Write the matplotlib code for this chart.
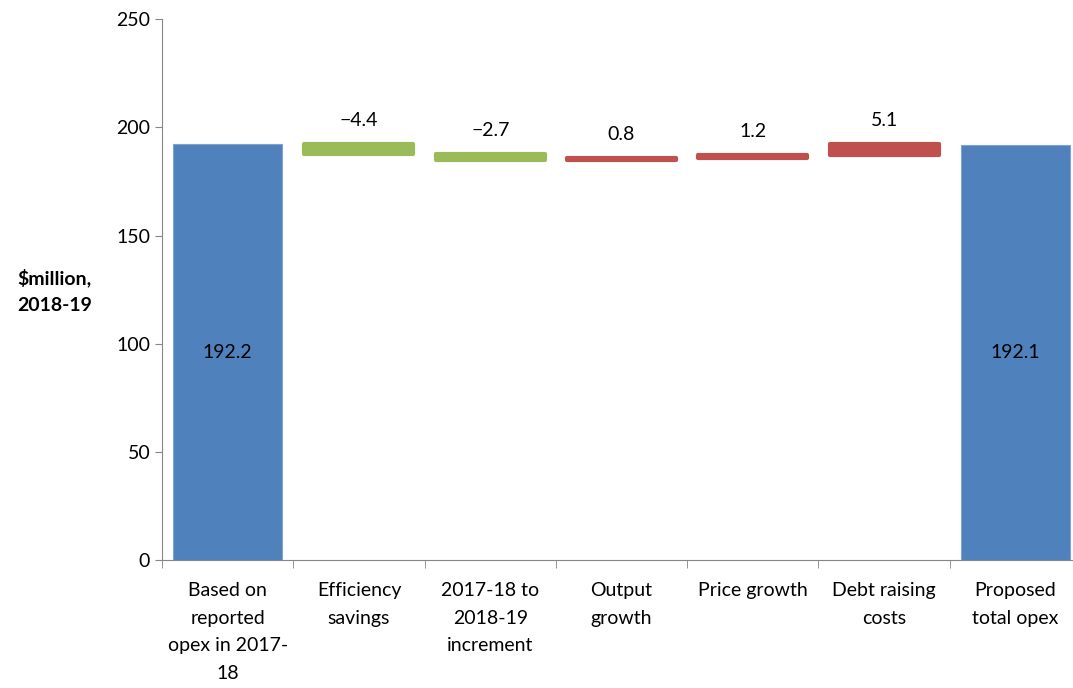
import matplotlib.pyplot as plt
import numpy as np

# waterfall data ($million, 2018-19)
categories = ["Based on\nreported\nopex in 2017-\n18", "Efficiency\nsavings",
              "2017-18 to\n2018-19\nincrement", "Output\ngrowth", "Price growth",
              "Debt raising\ncosts", "Proposed\ntotal opex"]
start_total = 192.2
steps = [-4.4, -2.7, 0.8, 1.2, 5.1]
end_total = 192.1

blue = "#4F81BD"
green = "#9BBB59"
red = "#C0504D"

plt.rcParams['font.family'] = ['Lato', 'DejaVu Sans']

fig = plt.figure(figsize=(10.73, 6.88), dpi=100)
ax = fig.add_axes([0.151, 0.186, 0.8565, 0.786])

x = np.arange(len(categories))
w = 0.83

# totals
ax.bar(x[0], start_total, width=w, color=blue, edgecolor="#7fa3d0", linewidth=0.8)
ax.bar(x[-1], end_total, width=w, color=blue, edgecolor="#7fa3d0", linewidth=0.8)
ax.text(x[0], start_total / 2, f"{start_total:.1f}", ha="center", va="center", fontsize=14)
ax.text(x[-1], end_total / 2, f"{end_total:.1f}", ha="center", va="center", fontsize=14)

# floating steps
level = start_total
for i, s in enumerate(steps):
    col = green if s < 0 else red
    lo = min(level, level + s)
    ax.bar(x[i + 1], abs(s), bottom=lo, width=w, color=col, edgecolor=col,
           linewidth=3, joinstyle="round")
    top = max(level, level + s)
    lab = f"{s:.1f}".replace("-", "\u2212")
    ax.text(x[i + 1], top + 11, lab, ha="center", va="center", fontsize=14)
    level += s

ax.set_xlim(-0.5, len(categories) - 0.5)
ax.set_ylim(0, 250)
ax.set_yticks(range(0, 251, 50))
ax.tick_params(axis="y", labelsize=14, direction="out", length=5, color="#868686")

ax.set_xticks(x)
ax.set_xticklabels(categories, fontsize=14, linespacing=1.75)
ax.set_xticks(np.arange(-0.5, len(categories), 1), minor=True)
ax.tick_params(axis="x", which="major", length=0, pad=16)
ax.tick_params(axis="x", which="minor", length=6, color="#868686")

for sp in ["top", "right"]:
    ax.spines[sp].set_visible(False)
for sp in ["left", "bottom"]:
    ax.spines[sp].set_color("#868686")

fig.text(0.051, 0.577, "\\$million,\n2018-19", ha="center", va="center",
         fontsize=14, fontweight="bold", linespacing=1.7)

fig.savefig("out.png", dpi=100)
